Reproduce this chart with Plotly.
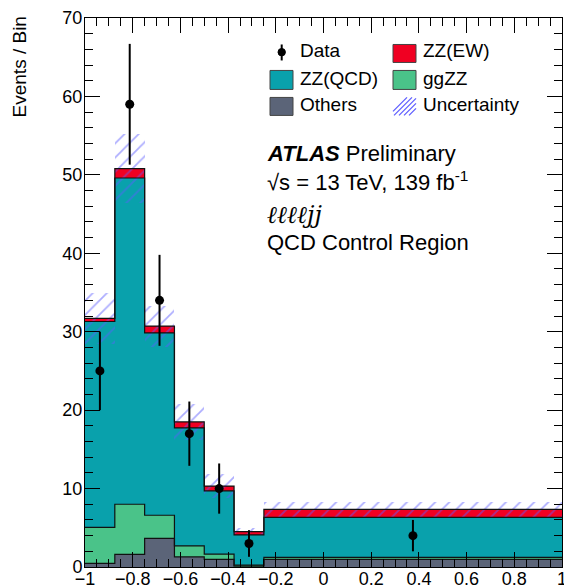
import plotly.graph_objects as go

# ---- data ----
bin_edges = [-1.0, -0.875, -0.75, -0.625, -0.5, -0.375, -0.25, 1.0]
others = [0.47, 1.6, 3.65, 1.3, 0.98, 0.1, 0.98]
ggzz = [4.58, 6.4, 2.95, 1.4, 0.67, 0.15, 0.25]
zzqcd = [26.25, 41.6, 23.25, 15.05, 8.05, 3.85, 5.1]
zzew = [0.4, 1.2, 0.85, 0.75, 0.6, 0.4, 1.02]
uncert = [3.3, 4.4, 2.6, 2.3, 1.5, 0.45, 1.0]
data_y = [25, 59, 34, 17, 10, 3, 4]
data_err = [5.0, 7.7, 5.8, 4.1, 3.2, 1.7, 2.0]

# colours
C_OTH = "#5b6478"
C_GG = "#4ac389"
C_QCD = "#09a1ac"
C_EW = "#f00022"
C_UNC = "#5c5cff"

centers = [(a + b) / 2 for a, b in zip(bin_edges[:-1], bin_edges[1:])]
widths = [b - a for a, b in zip(bin_edges[:-1], bin_edges[1:])]

fig = go.Figure()

base = [0.0] * len(centers)
tops = []
for name, vals, col in [("Others", others, C_OTH), ("ggZZ", ggzz, C_GG),
                        ("ZZ(QCD)", zzqcd, C_QCD), ("ZZ(EW)", zzew, C_EW)]:
    fig.add_trace(go.Bar(x=centers, y=vals, base=list(base), width=widths,
                         marker=dict(color=col, line=dict(width=0)),
                         name=name, showlegend=False))
    base = [b + v for b, v in zip(base, vals)]
    tops.append(list(base))

# step outlines of each cumulative histogram
for top in tops:
    fig.add_trace(go.Scatter(x=bin_edges, y=top + [top[-1]], mode="lines",
                             line=dict(color="#111", width=1.2, shape="hv"),
                             hoverinfo="skip", showlegend=False))

total = base
fig.add_trace(go.Bar(x=centers, y=[2 * u for u in uncert],
                     base=[t - u for t, u in zip(total, uncert)], width=widths,
                     marker=dict(color="rgba(0,0,0,0)", line=dict(width=0),
                                 pattern=dict(shape="/", fgcolor=C_UNC, bgcolor="rgba(0,0,0,0)",
                                              size=10, solidity=0.18, fillmode="overlay")),
                     showlegend=False))

fig.add_trace(go.Scatter(x=centers, y=data_y, mode="markers",
                         marker=dict(color="black", size=9),
                         error_y=dict(type="data", array=data_err, color="black", thickness=2, width=0),
                         showlegend=False))

L, R, T, B = 85, 562, 17.5, 567.0


def px(x):
    return (x - L) / (R - L)


def py(y):
    return (B - y) / (B - T)


font = "Liberation Sans, Arial, sans-serif"
ann = []
shapes = []

# y axis title
ann.append(dict(text="Events / Bin", x=px(19), y=py(67), xref="paper", yref="paper",
                textangle=-90, showarrow=False, xanchor="center", yanchor="middle",
                font=dict(size=19, family=font, color="black")))

# legend
def box(x0, y0, x1, y1, col):
    shapes.append(dict(type="rect", xref="paper", yref="paper", x0=px(x0), x1=px(x1),
                       y0=py(y1), y1=py(y0), fillcolor=col, line=dict(color="#444", width=1)))

box(393, 44, 416, 62, C_EW)
box(270, 70, 293, 89, C_QCD)
box(393, 70, 416, 89, C_GG)
box(270, 97, 293, 115, C_OTH)
# hatch legend
for k in range(5):
    x0 = 393 + k * 5 - 4
    shapes.append(dict(type="line", xref="paper", yref="paper",
                       x0=px(max(x0, 393)), y0=py(115 - max(0, 393 - x0) * 1.0),
                       x1=px(min(x0 + 18, 416)), y1=py(97 + max(0, x0 + 18 - 416) * 1.0),
                       line=dict(color=C_UNC, width=1.2)))
# data legend marker
shapes.append(dict(type="line", xref="paper", yref="paper", x0=px(281.7), x1=px(281.7),
                   y0=py(44), y1=py(60), line=dict(color="black", width=2)))
shapes.append(dict(type="circle", xref="paper", yref="paper", x0=px(278), x1=px(285.4),
                   y0=py(55.4), y1=py(48), fillcolor="black", line=dict(color="black", width=1)))

for txt, x, y in [("Data", 298, 50.5), ("ZZ(EW)", 421, 50.5), ("ZZ(QCD)", 298, 78),
                  ("ggZZ", 421, 78), ("Others", 298, 104), ("Uncertainty", 421, 104)]:
    ann.append(dict(text=txt, x=px(x), y=py(y), xref="paper", yref="paper", showarrow=False,
                    xanchor="left", yanchor="middle", font=dict(size=19, family=font, color="black")))

for txt, y, fnt, sz in [("<b><i>ATLAS</i></b> Preliminary", 153.5, font, 22),
                        ("√s = 13 TeV, 139 fb<sup>-1</sup>", 181, font, 22),
                        ("<i>ℓℓℓℓjj</i>", 215, "DejaVu Serif, serif", 24),
                        ("QCD Control Region", 242, font, 22)]:
    ann.append(dict(text=txt, x=px(265), y=py(y), xref="paper", yref="paper", showarrow=False,
                    xanchor="left", yanchor="middle", font=dict(size=sz, family=fnt, color="black")))

axis_common = dict(showline=True, linecolor="black", linewidth=1, mirror="allticks",
                   ticks="inside", ticklen=15, tickcolor="black", tickwidth=1,
                   showgrid=False, zeroline=False, automargin=False,
                   ticklabeloverflow="allow",
                   tickfont=dict(size=18, family=font, color="black"))

fig.update_layout(
    width=564, height=587,
    margin=dict(l=L, r=564 - R, t=T, b=587 - B),
    paper_bgcolor="white", plot_bgcolor="white",
    barmode="overlay", bargap=0,
    xaxis=dict(range=[-1, 1], dtick=0.2, tick0=-1, ticklabelstandoff=-5,
               minor=dict(dtick=0.05, ticks="inside", ticklen=8, tickcolor="black"),
               **axis_common),
    yaxis=dict(range=[0, 70], dtick=10, tick0=0, ticklabelstandoff=-2,
               minor=dict(dtick=2, ticks="inside", ticklen=8, tickcolor="black"),
               **axis_common),
    annotations=ann, shapes=shapes,
)

fig.write_html("out.html")
